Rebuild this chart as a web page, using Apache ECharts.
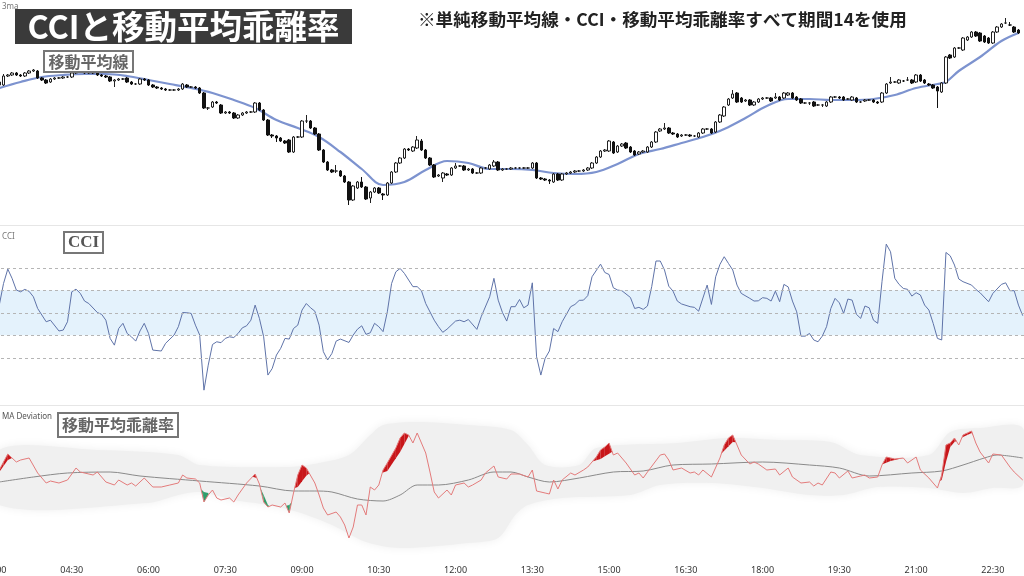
<!DOCTYPE html>
<html><head><meta charset="utf-8">
<script src="https://cdn.jsdelivr.net/npm/echarts@6/dist/echarts.min.js"></script>
<style>html,body{margin:0;padding:0;background:#fff}#c{width:1024px;height:576px}</style>
</head><body><div id="c"></div>
<script>
// ---- data (5-minute bars, bar 0 = 03:05) ----
const candleOpen = [215,215,224,225,227,225,224,227,229,229,222,220,218,221,222,222,223,223,227,228,228,227,228,227,225,224,223,219,220,221,222,218,216,216,221,220,215,213,212,211,210,210,210,211,215,213,213,212,207,192,193,198,195,187,188,187,182,185,187,188,188,197,190,180,165,164,162,159,160,148,163,163,179,179,172,166,150,138,130,129,129,124,118,100,112,118,113,102,108,112,106,105,117,128,137,142,151,149,152,159,150,142,135,124,122,126,125,132,134,134,130,131,127,127,132,131,134,138,130,131,131,132,132,132,132,132,137,122,121,120,118,126,120,126,127,128,129,129,130,132,137,143,149,149,158,148,154,157,153,149,146,148,148,153,158,169,171,172,167,166,164,165,165,164,163,167,171,171,168,178,184,195,202,207,202,199,200,195,198,201,202,202,202,203,202,205,207,203,201,197,197,198,195,195,194,198,203,203,203,201,200,202,198,199,200,200,198,198,207,217,218,217,219,220,220,218,225,220,216,215,213,208,217,245,243,252,250,260,263,268,267,264,262,257,268,273,277,275,273,270];
const candleClose = [218,224,225,227,225,224,227,229,230,222,220,217,221,222,222,223,223,227,228,228,227,228,227,225,224,223,219,220,221,221,218,216,216,221,220,215,213,212,211,210,210,210,211,216,213,213,212,207,192,192,198,197,187,188,187,182,185,187,188,188,197,190,180,165,164,162,159,157,148,163,163,179,179,172,166,150,138,130,128,129,124,118,100,114,118,113,101,108,112,107,105,117,128,137,142,151,150,153,160,150,142,135,123,125,127,125,132,134,134,130,131,127,127,132,132,135,138,130,131,131,132,132,132,132,132,137,122,121,120,119,126,120,126,127,128,129,129,130,132,137,143,149,150,159,147,154,156,152,148,145,148,149,153,158,168,171,172,167,166,163,165,165,164,164,167,171,171,167,178,185,193,201,206,198,198,200,195,198,201,202,202,199,203,200,207,207,202,200,197,197,197,194,195,195,198,203,203,202,200,201,203,198,198,200,200,198,197,207,216,218,218,220,219,220,217,225,219,217,215,212,209,217,243,242,252,252,262,263,268,264,259,258,257,268,273,276,277,275,268,267];
const candleHigh = [220,226,226,228,228,226,228,230,231,230,223,221,222,223,223,224,224,228,229,229,229,229,229,228,226,225,224,221,222,222,223,219,217,222,222,221,216,214,213,212,211,211,212,217,216,214,214,213,208,193,199,199,196,189,189,188,186,188,189,189,198,198,191,181,166,165,163,160,161,164,164,180,185,180,173,167,151,139,131,135,130,125,119,115,119,123,114,109,113,113,107,118,129,138,143,152,152,154,164,161,151,143,136,126,128,127,133,137,135,135,132,132,128,133,133,136,140,139,132,132,133,133,133,133,133,138,138,123,122,121,127,127,127,128,129,130,130,131,133,138,144,150,151,160,159,155,157,158,154,150,149,150,154,159,169,172,177,173,168,167,166,166,166,165,168,172,172,172,179,186,194,202,210,208,203,201,201,199,202,203,203,203,207,204,208,208,208,204,202,198,198,199,196,196,199,204,204,204,204,202,204,203,199,201,201,201,199,208,217,223,219,221,220,223,221,226,226,221,217,216,214,218,244,246,253,253,263,264,269,269,268,265,263,269,274,277,282,278,274,271];
const candleLow = [213,214,223,224,224,223,223,226,228,221,219,216,217,220,221,221,222,222,226,227,226,226,226,224,223,222,218,213,219,220,217,215,215,215,219,214,212,211,210,209,209,209,209,210,212,212,211,206,191,190,192,196,186,186,186,181,181,184,186,187,187,189,179,164,162,158,158,156,147,147,162,162,177,171,165,149,137,129,127,127,123,117,95,99,111,112,100,97,107,106,100,104,116,127,136,141,149,148,151,149,141,134,122,123,118,124,124,131,133,129,129,126,126,126,131,130,133,129,129,130,130,131,131,131,131,131,121,120,119,116,117,119,119,125,126,127,128,128,129,131,136,142,148,148,146,147,153,151,147,144,145,147,147,152,157,168,170,166,165,162,163,164,163,163,162,166,170,166,167,177,183,194,201,197,197,198,194,194,197,200,201,198,201,199,201,204,201,199,196,196,195,193,194,193,193,197,202,201,199,200,199,197,197,198,199,197,196,197,206,216,217,216,218,219,216,217,218,216,214,211,192,207,216,241,242,251,249,259,262,263,258,257,256,256,267,272,276,274,267,266];
// 14-period SMA of price: [bar, value]
const maPoints = [[0,212],[5,218],[10,223],[15,225],[20,226],[25,226],[30,224],[35,220],[40,216],[45,212],[50,207],[55,200],[60,192],[65,180],[70,172],[75,163],[80,148],[85,131],[90,115],[95,118],[100,130],[105,139],[110,137],[115,131],[120,131],[125,130],[130,127],[135,126],[140,128],[145,136],[150,146],[155,151],[160,157],[165,163],[170,171],[175,182],[180,194],[185,201],[190,201],[195,200],[200,200],[205,201],[210,205],[215,212],[220,216],[222,218],[225,229],[230,243],[235,259],[239,267]];
// CCI(14): [bar, value]
const cciPoints = [[0,34],[1,130],[2,194],[3,153],[4,101],[5,93],[6,104],[7,95],[8,71],[9,19],[11,-40],[12,-33],[14,-81],[15,-77],[16,-40],[17,93],[18,105],[19,86],[20,52],[21,41],[23,1],[24,-7],[25,-33],[26,-114],[27,-144],[28,-70],[29,-47],[30,-92],[31,-107],[32,-126],[33,-81],[34,-47],[35,-92],[36,-166],[38,-170],[39,-136],[41,-99],[42,-62],[43,1],[44,0],[45,-3],[46,-55],[47,-99],[48,-344],[49,-233],[50,-141],[51,-129],[52,-133],[53,-114],[54,-107],[55,-110],[56,-92],[57,-67],[58,-58],[59,-33],[60,34],[61,-25],[62,-107],[63,-277],[64,-248],[65,-188],[66,-158],[67,-114],[68,-117],[69,-70],[70,-55],[71,12],[72,41],[73,22],[74,7],[75,-55],[76,-173],[77,-210],[78,-181],[79,-126],[80,-117],[82,-132],[83,-99],[84,-73],[85,-58],[86,-96],[87,-89],[88,-47],[89,-62],[90,-84],[91,4],[92,130],[93,182],[94,197],[95,175],[97,116],[98,116],[99,98],[100,41],[102,-33],[103,-62],[104,-87],[105,-73],[107,-37],[108,-33],[109,-40],[110,-30],[112,-74],[113,-18],[115,71],[116,153],[117,56],[118,1],[119,-37],[120,27],[121,27],[122,59],[123,22],[124,34],[125,133],[126,-196],[127,-277],[128,-203],[129,-170],[130,-70],[131,-84],[132,-40],[134,27],[135,37],[136,55],[137,56],[138,76],[139,160],[141,216],[142,179],[143,170],[144,111],[145,101],[146,98],[148,68],[149,19],[150,24],[151,15],[152,30],[153,116],[154,230],[155,230],[156,190],[157,118],[158,96],[159,52],[160,39],[162,27],[163,24],[164,7],[166,123],[167,37],[168,160],[169,215],[170,249],[171,219],[172,190],[173,123],[174,86],[176,64],[177,52],[178,53],[179,67],[180,64],[181,52],[182,96],[183,49],[184,126],[185,115],[186,52],[187,4],[188,-104],[189,-104],[190,-92],[191,-121],[192,-129],[193,-104],[194,-62],[195,19],[196,64],[197,44],[198,-3],[199,61],[200,56],[201,-7],[202,-25],[203,30],[204,22],[205,-33],[206,-47],[207,138],[208,305],[209,271],[210,153],[211,126],[212,108],[213,104],[214,74],[215,89],[216,79],[217,34],[218,12],[219,-47],[220,-114],[221,-121],[222,268],[223,253],[224,212],[225,150],[226,138],[228,123],[229,104],[230,89],[232,49],[233,86],[235,126],[236,133],[237,98],[238,98],[239,34],[240,-13]];
// MA deviation (%): [bar, value]
const devPoints = [[0,0.12],[1,0.20],[2,0.28],[4,0.20],[5,0.22],[7,0.24],[9,0.09],[11,-0.01],[12,0.01],[14,-0.01],[16,0.02],[18,0.14],[19,0.10],[22,0.07],[23,0.10],[25,0.00],[27,-0.03],[28,0.02],[30,-0.03],[31,-0.01],[32,-0.04],[34,0.04],[36,-0.05],[38,-0.05],[40,-0.03],[42,-0.01],[43,0.07],[44,0.04],[46,0.03],[47,-0.01],[48,-0.20],[49,-0.13],[50,-0.08],[51,-0.16],[52,-0.18],[54,-0.16],[55,-0.20],[56,-0.13],[58,-0.01],[60,0.08],[61,-0.02],[62,-0.20],[63,-0.25],[64,-0.23],[66,-0.25],[67,-0.21],[68,-0.31],[69,-0.11],[70,0.07],[71,0.17],[72,0.14],[74,-0.01],[75,-0.13],[76,-0.26],[77,-0.33],[79,-0.30],[80,-0.35],[81,-0.43],[82,-0.56],[83,-0.45],[84,-0.23],[85,-0.23],[86,-0.33],[87,-0.05],[88,-0.08],[89,-0.03],[90,0.12],[91,0.19],[93,0.34],[94,0.44],[95,0.49],[96,0.47],[97,0.39],[98,0.49],[100,0.29],[101,0.10],[102,-0.10],[103,-0.16],[105,-0.08],[106,-0.13],[107,-0.03],[109,-0.01],[110,-0.05],[111,-0.03],[113,0.02],[114,0.09],[116,0.16],[117,0.05],[119,0.03],[120,0.08],[122,0.08],[124,0.05],[125,0.12],[126,-0.09],[128,-0.11],[129,-0.12],[130,0.02],[131,-0.07],[132,0.02],[134,0.09],[135,0.07],[137,0.12],[138,0.15],[140,0.25],[141,0.32],[142,0.35],[143,0.39],[144,0.27],[145,0.29],[147,0.19],[149,0.07],[150,0.09],[151,0.04],[152,0.10],[155,0.27],[156,0.28],[157,0.22],[158,0.12],[160,0.14],[162,0.09],[163,0.10],[164,0.07],[165,0.12],[167,0.05],[169,0.24],[170,0.37],[171,0.44],[172,0.47],[173,0.37],[174,0.27],[176,0.18],[177,0.20],[178,0.18],[180,0.12],[182,0.13],[183,0.07],[185,0.14],[186,0.05],[188,-0.01],[190,0.00],[191,-0.04],[192,-0.01],[193,-0.03],[195,0.10],[196,0.09],[197,0.04],[199,0.11],[200,0.04],[202,0.06],[203,0.07],[204,0.04],[206,0.05],[207,0.17],[208,0.25],[209,0.24],[210,0.23],[212,0.24],[213,0.19],[215,0.25],[216,0.12],[218,0.04],[220,-0.06],[221,0.07],[222,0.37],[223,0.39],[224,0.44],[225,0.37],[226,0.47],[227,0.49],[228,0.51],[229,0.39],[230,0.30],[232,0.19],[233,0.28],[235,0.27],[237,0.15],[238,0.10],[240,0.02]];
const devMaPoints = [[0,0.00],[8,0.05],[16,0.09],[26,0.10],[33,0.06],[47,0.01],[61,-0.04],[69,-0.09],[74,-0.09],[78,-0.10],[84,-0.17],[90,-0.19],[94,-0.13],[98,-0.03],[103,-0.03],[110,0.02],[116,0.10],[120,0.10],[124,0.05],[129,0.00],[136,0.04],[144,0.10],[151,0.11],[158,0.17],[167,0.18],[179,0.20],[190,0.17],[197,0.14],[204,0.06],[214,0.09],[221,0.11],[226,0.17],[231,0.24],[234,0.27],[240,0.24]];
const bandUpper = [[0,0.32],[23,0.32],[42,0.27],[47,0.17],[68,0.15],[75,0.19],[82,0.27],[87,0.47],[90,0.57],[98,0.60],[110,0.57],[120,0.52],[124,0.37],[128,0.17],[136,0.17],[140,0.34],[159,0.39],[171,0.44],[183,0.42],[195,0.40],[202,0.27],[218,0.27],[223,0.50],[230,0.54],[240,0.54]];
const bandLower = [[0,-0.23],[35,-0.21],[42,-0.13],[47,-0.10],[55,-0.18],[63,-0.23],[70,-0.30],[78,-0.43],[86,-0.60],[94,-0.66],[110,-0.61],[117,-0.56],[121,-0.33],[124,-0.23],[132,-0.16],[148,-0.13],[155,-0.03],[167,-0.01],[179,-0.06],[190,-0.13],[198,-0.13],[206,-0.05],[218,-0.06],[226,-0.11],[233,-0.06],[240,-0.03]];
const alertUpper = [[0,0.10],[2,0.22],[6,0.30],[12,0.30],[23,0.27],[35,0.22],[47,0.14],[59,0.06],[68,-0.08],[70,-0.05],[73,0.12],[77,0.17],[84,0.12],[89,0.08],[91,0.11],[94,0.30],[96,0.46],[97,0.52],[98,0.56],[103,0.54],[113,0.42],[122,0.32],[131,0.20],[138,0.19],[141,0.23],[144,0.31],[147,0.34],[155,0.32],[164,0.30],[169,0.27],[172,0.40],[178,0.37],[188,0.27],[199,0.20],[206,0.16],[209,0.21],[212,0.24],[215,0.27],[218,0.12],[220,0.00],[221,0.02],[222,0.20],[223,0.35],[224,0.40],[225,0.42],[226,0.45],[227,0.47],[228,0.49],[229,0.42],[232,0.37],[240,0.32]];
const alertLower = [[0,-0.28],[23,-0.23],[35,-0.13],[42,-0.08],[47,-0.06],[48,-0.10],[49,-0.11],[50,-0.18],[54,-0.23],[56,-0.20],[58,-0.10],[61,-0.04],[62,-0.13],[63,-0.23],[64,-0.26],[66,-0.28],[67,-0.24],[68,-0.23],[69,-0.18],[70,-0.23],[77,-0.43],[82,-0.63],[87,-0.63],[94,-0.68],[117,-0.63],[127,-0.18],[131,-0.16],[141,-0.13],[164,-0.06],[188,-0.13],[199,-0.15],[218,-0.13],[240,-0.08]];
const cciLevels = [200, 100, 0, -100, -200];
const firstBarSlot = 37;   // 03:05 in 5-minute slots from 00:00
const axisMinSlot = 36, axisMaxSlot = 277.3, labelEvery = 18;

// ---- helpers ----
const S = i => firstBarSlot + i;
const toXY = pts => pts.map(p => [S(p[0]), p[1]]);
const fmt = n => { const m = Math.round(n * 5); const h = Math.floor(m / 60), mm = m % 60; return String(h).padStart(2,'0') + ':' + String(mm).padStart(2,'0'); };
function valAt(pts, i) {
  if (i <= pts[0][0]) return pts[0][1];
  for (let k = 1; k < pts.length; k++) {
    if (i <= pts[k][0]) { const a = pts[k-1], b = pts[k]; return a[1] + (b[1]-a[1])*(i-a[0])/(b[0]-a[0]); }
  }
  return pts[pts.length-1][1];
}
function exceed(line, thr, sign) {
  const out = [];
  for (let k = 0; k < line.length - 1; k++) {
    const [i1, v1] = line[k], [i2, v2] = line[k+1];
    const t1 = valAt(thr, i1), t2 = valAt(thr, i2);
    const d1 = (v1 - t1) * sign, d2 = (v2 - t2) * sign;
    if (d1 <= 0 && d2 <= 0) continue;
    if (d1 > 0 && d2 > 0) out.push([[i1,t1],[i1,v1],[i2,v2],[i2,t2]]);
    else {
      const s = d1 / (d1 - d2), ic = i1 + s*(i2-i1), vc = v1 + s*(v2-v1);
      out.push(d1 > 0 ? [[i1,t1],[i1,v1],[ic,vc]] : [[ic,vc],[i2,v2],[i2,t2]]);
    }
  }
  return out;
}
const upPolys = exceed(devPoints, alertUpper, 1);
const dnPolys = exceed(devPoints, alertLower, -1);

const candleData = candleOpen.map((o, i) => [S(i), o, candleClose[i], candleLow[i], candleHigh[i]]);

const chart = echarts.init(document.getElementById('c'), null, {renderer: 'canvas'});
const jp = "'Noto Sans CJK JP','Noto Sans',sans-serif";
const xAx = g => ({
  type: 'value', gridIndex: g, min: axisMinSlot, max: axisMaxSlot, interval: labelEvery,
  axisLine: {show: false}, axisTick: {show: false}, splitLine: {show: false},
  axisLabel: g === 2 ? {show: true, formatter: fmt, color: '#333', fontSize: 9, margin: 8, showMinLabel: true, showMaxLabel: false, fontFamily: "'Noto Sans',sans-serif"} : {show: false}
});
const yAx = (g, min, max) => ({type: 'value', gridIndex: g, min, max, show: false, splitLine: {show: false}});
const gridBase = {left: -5, right: 0, containLabel: false, outerBoundsMode: 'none'};

chart.setOption({
  animation: false,
  backgroundColor: '#ffffff',
  grid: [
    Object.assign({top: 0, height: 225}, gridBase),
    Object.assign({top: 225, height: 180}, gridBase),
    Object.assign({top: 406, height: 152}, gridBase)
  ],
  xAxis: [xAx(0), xAx(1), xAx(2)],
  yAxis: [yAx(0, 75, 300), yAx(1, -410, 390), yAx(2, -0.76, 0.76)],
  series: [
    {type: 'line', xAxisIndex: 0, yAxisIndex: 0, data: toXY(maPoints), smooth: 0.35, showSymbol: false,
     lineStyle: {color: '#7d93cf', width: 2.2}, z: 2},
    {type: 'candlestick', xAxisIndex: 0, yAxisIndex: 0, data: candleData, barWidth: 3,
     encode: {x: 0, y: [1, 2, 3, 4]},
     itemStyle: {color: '#ffffff', color0: '#111111', borderColor: '#222222', borderColor0: '#111111', borderWidth: 1}, z: 3},
    {type: 'line', xAxisIndex: 1, yAxisIndex: 1, data: toXY(cciPoints), showSymbol: false,
     lineStyle: {color: '#5f73a8', width: 1}, z: 3,
     markArea: {silent: true, itemStyle: {color: '#e4f2fc'}, data: [[{yAxis: -100}, {yAxis: 100}]]},
     markLine: {silent: true, symbol: 'none', label: {show: false},
       lineStyle: {color: '#b5b5b5', type: [3, 3], width: 1}, data: cciLevels.map(v => ({yAxis: v}))}},
    {type: 'custom', xAxisIndex: 2, yAxisIndex: 2, data: [[axisMinSlot, 0]], silent: true, z: 1,
     renderItem: (params, api) => {
       const pts = bandUpper.map(p => api.coord([S(p[0]), p[1]])).concat(bandLower.slice().reverse().map(p => api.coord([S(p[0]), p[1]])));
       return {type: 'polygon', shape: {points: pts, smooth: 0.3}, style: {fill: '#f0f0f0', shadowBlur: 10, shadowColor: '#f0f0f0'}};
     }},
    {type: 'custom', xAxisIndex: 2, yAxisIndex: 2, data: [[axisMinSlot, 0]], silent: true, z: 4,
     renderItem: (params, api) => ({type: 'group', children:
       upPolys.map(poly => ({type: 'polygon', shape: {points: poly.map(q => api.coord([S(q[0]), q[1]]))}, style: {fill: '#c8161a'}}))
       .concat(dnPolys.map(poly => ({type: 'polygon', shape: {points: poly.map(q => api.coord([S(q[0]), q[1]]))}, style: {fill: '#2f9e6b'}})))
     })},
    {type: 'line', xAxisIndex: 2, yAxisIndex: 2, data: toXY(devMaPoints), smooth: 0.3, showSymbol: false,
     lineStyle: {color: '#8a8a8a', width: 1}, z: 3},
    {type: 'line', xAxisIndex: 2, yAxisIndex: 2, data: toXY(devPoints), showSymbol: false,
     lineStyle: {color: '#e37b7b', width: 1}, z: 5}
  ],
  graphic: [
    {type: 'line', shape: {x1: 0, y1: 225.5, x2: 1024, y2: 225.5}, style: {stroke: '#e6e6e6', lineWidth: 1}, z: 10},
    {type: 'line', shape: {x1: 0, y1: 405.5, x2: 1024, y2: 405.5}, style: {stroke: '#e6e6e6', lineWidth: 1}, z: 10},
    {type: 'text', x: 2, y: 7, style: {text: '3ma', fill: '#777', font: "8px 'Noto Sans',sans-serif", textVerticalAlign: 'middle'}, z: 10},
    {type: 'text', x: 2, y: 237, style: {text: 'CCI', fill: '#777', font: "8px 'Noto Sans',sans-serif", textVerticalAlign: 'middle'}, z: 10},
    {type: 'text', x: 2, y: 417, style: {text: 'MA Deviation', fill: '#555', font: "8px 'Noto Sans',sans-serif", textVerticalAlign: 'middle'}, z: 10},
    {type: 'rect', shape: {x: 15, y: 9, width: 337, height: 35}, style: {fill: '#3a3a3a'}, z: 20},
    {type: 'text', x: 183.5, y: 27, style: {text: 'CCIと移動平均乖離率', fill: '#ffffff', font: "bold 32.5px " + jp, textAlign: 'center', textVerticalAlign: 'middle'}, z: 21},
    {type: 'text', x: 418, y: 19, style: {text: '※単純移動平均線・CCI・移動平均乖離率すべて期間14を使用', fill: '#222', font: "bold 17.6px " + jp, textAlign: 'left', textVerticalAlign: 'middle'}, z: 21},
    {type: 'rect', shape: {x: 44, y: 51, width: 89, height: 21}, style: {fill: '#fff', stroke: '#777', lineWidth: 2}, z: 20},
    {type: 'text', x: 88.5, y: 61.5, style: {text: '移動平均線', fill: '#666', font: "bold 16px " + jp, textAlign: 'center', textVerticalAlign: 'middle'}, z: 21},
    {type: 'rect', shape: {x: 64, y: 232, width: 39, height: 21}, style: {fill: '#fff', stroke: '#777', lineWidth: 2}, z: 20},
    {type: 'text', x: 83.5, y: 242.5, style: {text: 'CCI', fill: '#555', font: "bold 17px 'Liberation Serif',serif", textAlign: 'center', textVerticalAlign: 'middle'}, z: 21},
    {type: 'rect', shape: {x: 58, y: 413, width: 120, height: 24}, style: {fill: '#fff', stroke: '#777', lineWidth: 2}, z: 20},
    {type: 'text', x: 118, y: 425, style: {text: '移動平均乖離率', fill: '#666', font: "bold 16px " + jp, textAlign: 'center', textVerticalAlign: 'middle'}, z: 21}
  ]
});
</script></body></html>
